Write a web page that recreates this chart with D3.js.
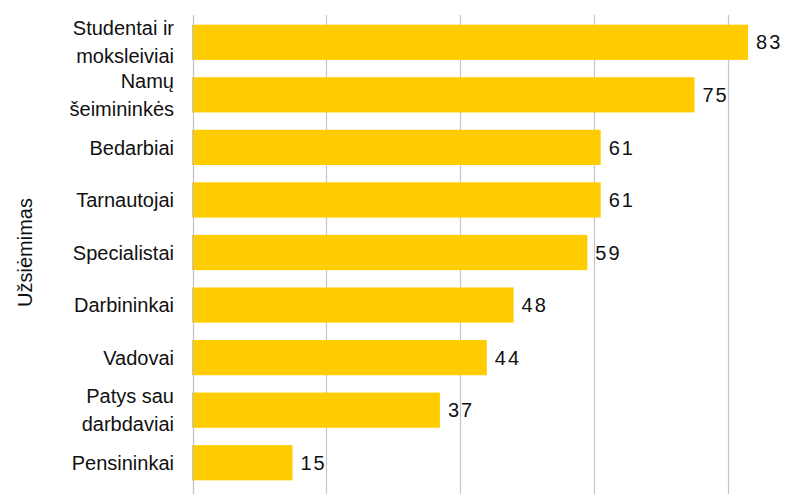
<!DOCTYPE html>
<html>
<head>
<meta charset="utf-8">
<script src="https://cdn.jsdelivr.net/npm/d3@7"></script>
<style>
  html, body { margin: 0; padding: 0; background: #fff; }
  svg { display: block; }
  text { font-family: "Liberation Sans", Arial, sans-serif; fill: #111; }
</style>
</head>
<body>
<svg id="chart" width="785" height="494"></svg>
<script>
// Occupation groups, top to bottom (each inner array = label lines)
const categories = [
  ["Studentai ir", "moksleiviai"],
  ["Namų", "šeimininkės"],
  ["Bedarbiai"],
  ["Tarnautojai"],
  ["Specialistai"],
  ["Darbininkai"],
  ["Vadovai"],
  ["Patys sau", "darbdaviai"],
  ["Pensininkai"]
];
const values = [83, 75, 61, 61, 59, 48, 44, 37, 15];
const xTicks = [0, 20, 40, 60, 80];
const axisTitle = "Užsiėmimas";

(function draw() {
  const svg = d3.select("#chart");
  const W = 785, H = 494;
  const mLeft = 192, mTop = 16, mBottom = 489;
  const fs = 20;

  const x = d3.scaleLinear().domain([0, 80]).range([mLeft, mLeft + 536]);
  const keys = categories.map((c, i) => i);
  const y = d3.scaleBand().domain(keys).range([mTop, mBottom]).paddingInner(0.33).paddingOuter(0.165);

  // vertical gridlines
  svg.append("g").selectAll("line")
    .data(xTicks.filter(t => t > 0))
    .join("line")
    .attr("x1", d => Math.round(x(d)) + 0.5)
    .attr("x2", d => Math.round(x(d)) + 0.5)
    .attr("y1", 15).attr("y2", H)
    .attr("stroke", "#c6c6c6").attr("stroke-width", 1.2);

  // bars
  svg.append("g").selectAll("rect")
    .data(values)
    .join("rect")
    .attr("x", x(0))
    .attr("y", (d, i) => y(i))
    .attr("width", d => x(d) - x(0))
    .attr("height", y.bandwidth())
    .attr("fill", "#ffcc00");

  // axis line
  svg.append("line")
    .attr("x1", mLeft + 1.5).attr("x2", mLeft + 1.5)
    .attr("y1", 15).attr("y2", H)
    .attr("stroke", "#c0c0c0").attr("stroke-width", 1.2);

  // value labels
  svg.append("g").selectAll("text")
    .data(values)
    .join("text")
    .attr("x", d => x(d) + 8)
    .attr("y", (d, i) => y(i) + y.bandwidth() / 2)
    .attr("dy", "0.36em")
    .attr("font-size", fs)
    .attr("letter-spacing", 2)
    .text(d => d);

  // category labels
  const lab = svg.append("g").selectAll("text")
    .data(categories)
    .join("text")
    .attr("text-anchor", "end")
    .attr("font-size", fs)
    .attr("y", (d, i) => y(i) + y.bandwidth() / 2);
  lab.each(function (lines) {
    const t = d3.select(this);
    const lh = 28;
    const start = -(lines.length - 1) * lh / 2;
    lines.forEach((ln, j) => {
      t.append("tspan")
        .attr("x", 174)
        .attr("dy", j === 0 ? (start / fs + 0.36) + "em" : lh + "px")
        .text(ln);
    });
  });

  // axis title
  svg.append("text")
    .attr("transform", `translate(25, ${(mTop + mBottom) / 2}) rotate(-90)`)
    .attr("text-anchor", "middle")
    .attr("dy", "0.36em")
    .attr("font-size", fs)
    .text(axisTitle);
})();
</script>
</body>
</html>
